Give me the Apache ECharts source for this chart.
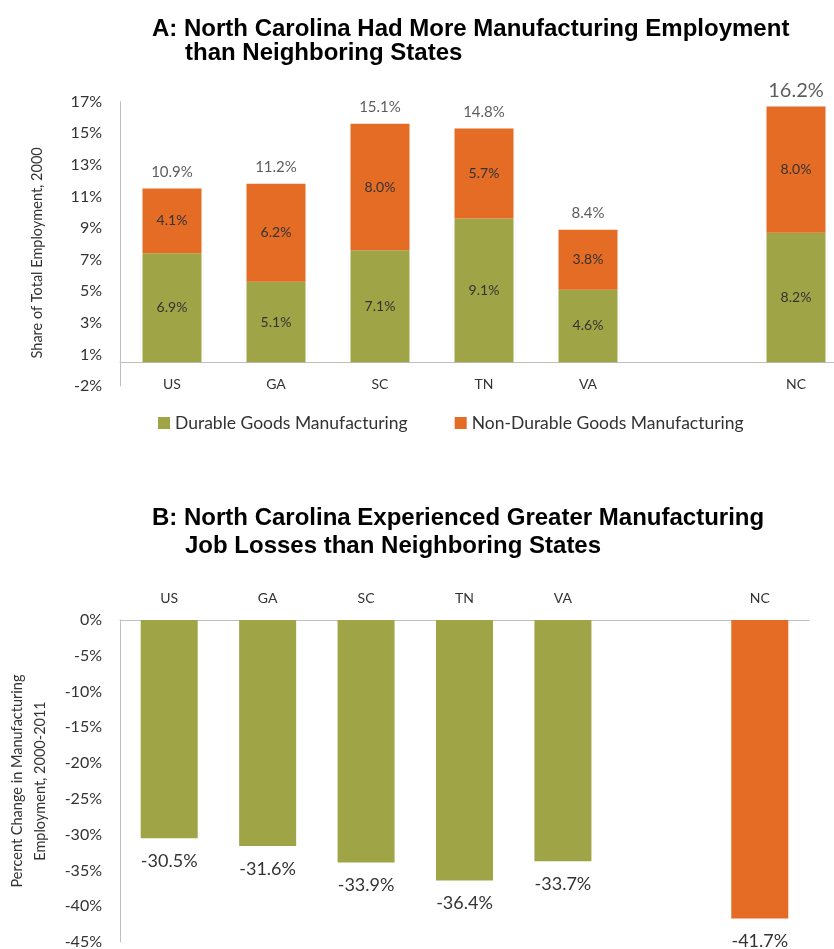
<!DOCTYPE html>
<html lang="en">
<head>
<meta charset="UTF-8">
<title>NC Manufacturing</title>
<script src="https://cdn.jsdelivr.net/npm/echarts@6/dist/echarts.min.js"></script>
<style>
    html, body { margin: 0; padding: 0; background: #fff; }
    #chart { width: 834px; height: 949px; }
</style>
</head>
<body>
<div id="chart"></div>
<script>
    // categories (blank slot keeps the gap before NC)
    var states = ['US', 'GA', 'SC', 'TN', 'VA', '', 'NC'];
    // panel A: share of total employment, 2000
    var durable = [6.9, 5.1, 7.1, 9.1, 4.6, null, 8.2];
    var nonDurable = [4.1, 6.2, 8.0, 5.7, 3.8, null, 8.0];
    var totals = [10.9, 11.2, 15.1, 14.8, 8.4, null, 16.2];
    var ticksA = ['-2%', '1%', '3%', '5%', '7%', '9%', '11%', '13%', '15%', '17%'];
    // panel B: percent change 2000-2011
    var change = [-30.5, -31.6, -33.9, -36.4, -33.7, null, -41.7];

    var green = '#9fa546';
    var orange = '#e46c25';
    var txt = '#333';
    var axisGray = '#bfbfbf';
    var font = 'Lato';

    var totalPoints = states.map(function (s, i) {
        if (durable[i] == null) return null;
        var item = { value: durable[i] + nonDurable[i], total: totals[i] };
        if (s === 'NC') item.label = { fontSize: 20, distance: 6 };
        return item;
    });

    var chart = echarts.init(document.getElementById('chart'));

    var titleStyle = { fontFamily: 'Liberation Sans', fontWeight: 'bold', fontSize: 24, color: '#000' };

    chart.setOption({
        animation: false,
        textStyle: { fontFamily: font },
        title: [
            { text: 'A: North Carolina Had More Manufacturing Employment', left: 147, top: 12, textStyle: titleStyle },
            { text: 'than Neighboring States', left: 180, top: 36, textStyle: titleStyle },
            { text: 'B: North Carolina Experienced Greater Manufacturing', left: 147, top: 501, textStyle: titleStyle },
            { text: 'Job Losses than Neighboring States', left: 180, top: 529, textStyle: titleStyle }
        ],
        legend: {
            data: ['Durable Goods Manufacturing', 'Non-Durable Goods Manufacturing'],
            left: 153, top: 409,
            icon: 'rect', itemWidth: 12, itemHeight: 12, itemGap: 47,
            textStyle: { fontSize: 17.5, color: txt, fontFamily: font }
        },
        grid: [
            { left: 120, right: -14, top: 101.7, bottom: 563, outerBoundsMode: 'none' },
            { left: 120, right: 25, top: 620, bottom: 7, outerBoundsMode: 'none' }
        ],
        xAxis: [
            {
                type: 'category', gridIndex: 0, data: states,
                axisTick: { show: false },
                axisLine: { lineStyle: { color: axisGray } },
                axisLabel: { fontSize: 14, color: txt, margin: -9 }
            },
            {
                type: 'category', gridIndex: 1, data: states, position: 'top',
                axisTick: { show: false },
                axisLine: { lineStyle: { color: axisGray } },
                axisLabel: { fontSize: 14, color: txt, margin: 15 }
            }
        ],
        yAxis: [
            {
                type: 'value', gridIndex: 0, min: -1.5, max: 16.5, interval: 2,
                splitLine: { show: false },
                axisTick: { show: false },
                axisLine: { show: true, lineStyle: { color: axisGray } },
                axisLabel: {
                    fontSize: 16, color: txt, margin: 18,
                    formatter: function (v) { return ticksA[Math.round((v + 1.5) / 2)]; }
                },
                name: 'Share of Total Employment, 2000',
                nameLocation: 'middle', nameRotate: 90, nameGap: 75,
                nameTextStyle: { fontSize: 14.5, color: txt, padding: [0, 18, 0, 0] }
            },
            {
                type: 'value', gridIndex: 1, min: -45, max: 0, interval: 5,
                splitLine: { show: false },
                axisTick: { show: false },
                axisLine: { show: true, lineStyle: { color: axisGray } },
                axisLabel: { fontSize: 16, color: txt, margin: 18, formatter: '{value}%' },
                name: 'Percent Change in Manufacturing\nEmployment, 2000-2011',
                nameLocation: 'middle', nameRotate: 90, nameGap: 68,
                nameTextStyle: { fontSize: 14.5, color: txt, lineHeight: 23 }
            }
        ],
        series: [
            {
                name: 'Durable Goods Manufacturing', type: 'bar', stack: 'a',
                xAxisIndex: 0, yAxisIndex: 0, barWidth: 59,
                itemStyle: { color: green },
                label: { show: true, position: 'inside', fontSize: 14, color: txt,
                    formatter: function (p) { return p.value.toFixed(1) + '%'; } },
                data: durable
            },
            {
                name: 'Non-Durable Goods Manufacturing', type: 'bar', stack: 'a',
                xAxisIndex: 0, yAxisIndex: 0, barWidth: 59,
                itemStyle: { color: orange },
                label: { show: true, position: 'inside', fontSize: 14, color: txt,
                    formatter: function (p) { return p.value.toFixed(1) + '%'; } },
                data: nonDurable
            },
            {
                name: 'Total', type: 'scatter', xAxisIndex: 0, yAxisIndex: 0,
                symbolSize: 0, silent: true,
                label: { show: true, position: 'top', distance: 9, fontSize: 15, color: txt,
                    formatter: function (p) { return p.data.total.toFixed(1) + '%'; } },
                data: totalPoints
            },
            {
                name: 'Change', type: 'bar', xAxisIndex: 1, yAxisIndex: 1, barWidth: 57,
                itemStyle: {
                    color: function (p) { return p.name === 'NC' ? orange : green; }
                },
                label: { show: true, position: 'bottom', distance: 14, fontSize: 18, color: txt,
                    formatter: function (p) { return p.value.toFixed(1) + '%'; } },
                data: change
            }
        ]
    });
</script>
</body>
</html>
